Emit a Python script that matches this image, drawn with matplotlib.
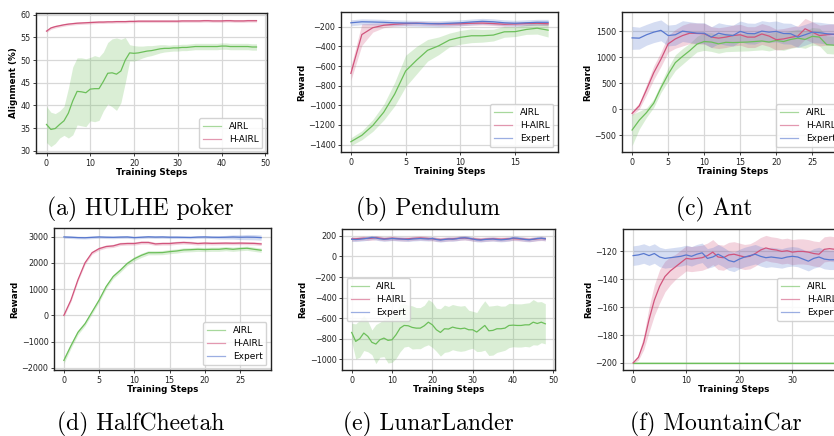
"""Six-panel reward curves: AIRL vs H-AIRL vs Expert."""

import matplotlib

matplotlib.use("Agg")
import matplotlib.pyplot as plt  # noqa: E402
import numpy as np  # noqa: E402
from matplotlib.ticker import MultipleLocator  # noqa: E402

W, H = 834, 436
COLORS = {"AIRL": "#6cbf5a", "H-AIRL": "#d1547c", "Expert": "#5878cf"}

# (a) HULHE poker, steps 0..48
POKER_AIRL = [35.8, 34.7, 34.9, 35.8, 36.6, 38.3, 41.0, 43.1, 43.0, 42.8, 43.6, 43.7, 43.7,
              45.3, 47.1, 47.2, 46.9, 47.6, 50.0, 51.6, 51.5, 51.6, 51.8, 52.0, 52.1, 52.3,
              52.5, 52.6, 52.6, 52.7, 52.7, 52.8, 52.8, 52.9, 53.0, 53.0, 53.0, 53.0, 53.0,
              53.0, 53.1, 53.1, 53.0, 53.0, 53.0, 53.0, 53.0, 52.9, 52.9]
POKER_AIRL_STD = [4.0, 3.8, 3.3, 3.0, 3.2, 5.5, 7.5, 7.4, 7.5, 7.5, 7.0, 7.3, 7.0, 6.5, 6.8,
                  7.5, 8.0, 7.0, 5.0, 1.8, 1.7, 1.5, 1.3, 1.2, 1.1, 1.0, 0.9, 0.8, 0.7, 0.7,
                  0.7, 0.7, 0.7, 0.7, 0.7, 0.7, 0.7, 0.7, 0.7, 0.7, 0.7, 0.7, 0.7, 0.7, 0.7,
                  0.7, 0.7, 0.7, 0.7]
POKER_HAIRL = [56.4, 57.1, 57.4, 57.6, 57.8, 57.95, 58.05, 58.15, 58.2, 58.25, 58.3, 58.35,
               58.4, 58.4, 58.45, 58.45, 58.5, 58.5, 58.5, 58.55, 58.55, 58.6, 58.6, 58.6,
               58.6, 58.6, 58.6, 58.6, 58.6, 58.6, 58.6, 58.65, 58.65, 58.65, 58.65, 58.65,
               58.7, 58.7, 58.65, 58.65, 58.65, 58.7, 58.7, 58.65, 58.65, 58.65, 58.7, 58.7,
               58.7]
POKER_HAIRL_STD = [0.3] * 49

# (b) Pendulum, steps 0..18
PEND_AIRL = [-1370, -1305, -1205, -1070, -885, -650, -540, -440, -395, -335, -308, -292,
             -292, -285, -252, -250, -228, -215, -235]
PEND_AIRL_STD = [40, 45, 60, 80, 120, 160, 140, 110, 90, 70, 70, 70, 65, 60, 55, 50, 50, 60, 70]
PEND_HAIRL = [-675, -280, -210, -185, -175, -168, -165, -168, -170, -172, -170, -165, -163,
              -168, -175, -172, -168, -165, -170]
PEND_HAIRL_STD = [70, 110, 45, 25, 20, 18, 18, 18, 20, 20, 20, 20, 20, 20, 20, 20, 20, 20, 20]
PEND_EXPERT = [-160, -150, -152, -155, -160, -163, -165, -168, -170, -165, -160, -152, -145,
               -150, -160, -165, -160, -155, -155]
PEND_EXPERT_STD = [30] * 19

# (c) Ant, steps 0..28
ANT_AIRL = [-400, -210, -65, 115, 410, 670, 895, 1015, 1125, 1250, 1300, 1290, 1255, 1285,
            1280, 1285, 1290, 1300, 1310, 1290, 1320, 1300, 1340, 1365, 1340, 1400, 1385,
            1240, 1230]
ANT_AIRL_STD = [300, 170, 90, 80, 90, 130, 150, 150, 140, 150, 170, 180, 180, 180, 170, 170,
                170, 170, 170, 170, 170, 170, 170, 170, 170, 170, 170, 170, 170]
ANT_HAIRL = [-80, 65, 375, 700, 960, 1255, 1350, 1415, 1460, 1455, 1450, 1385, 1365, 1385,
             1415, 1430, 1385, 1385, 1445, 1405, 1335, 1350, 1380, 1405, 1545, 1480, 1415,
             1430, 1440]
ANT_HAIRL_STD = [40, 60, 100, 130, 140, 160, 180, 200, 200, 200, 200, 200, 200, 200, 200, 200,
                 200, 200, 200, 200, 200, 200, 200, 200, 200, 200, 200, 200, 200]
ANT_EXPERT = [1370, 1365, 1430, 1480, 1515, 1415, 1430, 1500, 1480, 1460, 1460, 1385, 1460,
              1430, 1415, 1495, 1455, 1450, 1500, 1480, 1495, 1455, 1450, 1385, 1430, 1480,
              1470, 1450, 1440]
ANT_EXPERT_STD = [220, 210, 200, 200, 200, 200, 200, 200, 200, 200, 200, 200, 200, 200, 200,
                  200, 200, 200, 200, 200, 200, 200, 200, 200, 200, 200, 200, 200, 200]

# (d) HalfCheetah, steps 0..28
CHEETAH_AIRL = [-1715, -1160, -645, -320, 130, 580, 1095, 1480, 1715, 1975, 2155, 2285, 2385,
                2385, 2390, 2425, 2450, 2490, 2500, 2515, 2505, 2515, 2515, 2540, 2515, 2540,
                2555, 2515, 2480]
CHEETAH_AIRL_STD = [120, 100, 90, 80, 80, 80, 80, 80, 80, 80, 80, 80, 80, 80, 80, 80, 80, 80,
                    80, 80, 80, 80, 80, 80, 80, 80, 80, 80, 80]
CHEETAH_HAIRL = [0, 580, 1355, 2000, 2385, 2540, 2620, 2645, 2720, 2735, 2735, 2775, 2775,
                 2720, 2735, 2735, 2760, 2775, 2760, 2735, 2750, 2740, 2745, 2750, 2745, 2750,
                 2745, 2740, 2720]
CHEETAH_HAIRL_STD = [60] * 29
CHEETAH_EXPERT = [2985, 2975, 2960, 2955, 2970, 2985, 2975, 2970, 2980, 2985, 2960, 2975,
                  2990, 2980, 2985, 2975, 2975, 2970, 2965, 2980, 2985, 2975, 2970, 2975,
                  2985, 2975, 2980, 2975, 2960]
CHEETAH_EXPERT_STD = [50, 50, 50, 50, 50, 50, 50, 50, 50, 50, 50, 50, 50, 50, 50, 50, 50, 50,
                      50, 50, 50, 50, 60, 70, 80, 90, 100, 100, 100]

# (e) LunarLander, steps 0..48
LUNAR_AIRL = [-739, -826, -800, -745, -777, -835, -852, -810, -794, -816, -810, -761, -697,
              -671, -674, -690, -697, -697, -674, -639, -665, -713, -739, -703, -706, -687,
              -697, -703, -697, -713, -713, -735, -703, -671, -723, -719, -703, -703, -697,
              -671, -668, -671, -671, -665, -665, -639, -652, -639, -655]
LUNAR_AIRL_STD = [90, 170, 180, 170, 150, 120, 190, 170, 180, 220, 220, 230, 230, 210, 200,
                  210, 200, 200, 200, 220, 220, 210, 230, 230, 220, 220, 220, 220, 220, 190,
                  180, 190, 220, 240, 240, 240, 230, 220, 215, 215, 210, 210, 210, 210, 215,
                  220, 210, 200, 195]
LUNAR_HAIRL = [170, 172, 175, 178, 175, 178, 183, 178, 172, 175, 178, 175, 172, 170, 172, 175,
               178, 180, 178, 175, 172, 168, 165, 168, 170, 172, 175, 178, 180, 175, 170, 168,
               165, 168, 170, 172, 170, 168, 170, 172, 175, 172, 170, 168, 165, 168, 172, 175,
               172]
LUNAR_HAIRL_STD = [20] * 49
LUNAR_EXPERT = [168, 165, 168, 172, 178, 185, 180, 172, 168, 170, 175, 172, 170, 168, 165, 170,
                172, 175, 172, 170, 175, 165, 160, 165, 170, 168, 172, 180, 182, 178, 170, 162,
                160, 165, 168, 170, 165, 162, 165, 170, 180, 178, 172, 165, 162, 168, 175, 178,
                172]
LUNAR_EXPERT_STD = [20] * 49

# (f) MountainCar, steps 0..38
CAR_AIRL = [-200.0] * 39
CAR_AIRL_STD = [0.3] * 39
CAR_HAIRL = [-200, -196, -185.5, -169, -155, -145, -138, -134, -131, -128, -125, -125.5, -125,
             -124.5, -123, -120.5, -124, -124.5, -122.5, -122, -123, -124, -123.5, -121.5,
             -119, -117.5, -118.5, -119, -120, -119.5, -120.5, -120, -120, -120.5, -121.5,
             -122, -118.5, -118, -118.5]
CAR_HAIRL_STD = [0.5, 2, 5, 9, 11, 12, 11, 10, 9, 9, 9, 9, 9, 9, 9, 9, 9, 9, 9, 9, 9, 9, 9, 9,
                 9, 9, 9, 9, 9, 9, 9, 9, 9, 9, 9, 9, 9, 9, 9]
CAR_EXPERT = [-123, -122.5, -121.5, -123, -121.5, -124, -125, -124.5, -124, -123.5, -122.5,
              -123.5, -122, -121, -125, -124, -122, -124, -126.5, -127.5, -125.5, -124, -123,
              -122, -123.5, -124.5, -124, -124.5, -125, -124, -123.5, -124, -125.5, -127,
              -125, -124, -125.5, -126, -126]
CAR_EXPERT_STD = [7] * 39

# panel boxes in pixels: left, top, right, bottom
PANELS = [
    dict(box=(36, 13, 267, 153), caption="(a) HULHE poker", cap=(140.5, 215),
         ylabel="Alignment (%)", xstep=10, ystep=5, legend="lower right",
         series=[("AIRL", POKER_AIRL, POKER_AIRL_STD), ("H-AIRL", POKER_HAIRL, POKER_HAIRL_STD)]),
    dict(box=(341, 12, 558, 152), caption="(b) Pendulum", cap=(427.5, 215),
         ylabel="Reward", xstep=5, ystep=200, legend="lower right",
         series=[("AIRL", PEND_AIRL, PEND_AIRL_STD), ("H-AIRL", PEND_HAIRL, PEND_HAIRL_STD),
                 ("Expert", PEND_EXPERT, PEND_EXPERT_STD)]),
    dict(box=(622, 12, 844, 152), caption="(c) Ant", cap=(714, 215),
         ylabel="Reward", xstep=5, ystep=500, legend="lower right",
         series=[("AIRL", ANT_AIRL, ANT_AIRL_STD), ("H-AIRL", ANT_HAIRL, ANT_HAIRL_STD),
                 ("Expert", ANT_EXPERT, ANT_EXPERT_STD)]),
    dict(box=(54, 228, 271, 370), caption="(d) HalfCheetah", cap=(140.5, 430),
         ylabel="Reward", xstep=5, ystep=1000, legend="lower right",
         series=[("AIRL", CHEETAH_AIRL, CHEETAH_AIRL_STD),
                 ("H-AIRL", CHEETAH_HAIRL, CHEETAH_HAIRL_STD),
                 ("Expert", CHEETAH_EXPERT, CHEETAH_EXPERT_STD)]),
    dict(box=(342, 229, 555, 370), caption="(e) LunarLander", cap=(428.5, 430),
         ylabel="Reward", xstep=10, ystep=200, legend="center left",
         series=[("AIRL", LUNAR_AIRL, LUNAR_AIRL_STD), ("H-AIRL", LUNAR_HAIRL, LUNAR_HAIRL_STD),
                 ("Expert", LUNAR_EXPERT, LUNAR_EXPERT_STD)]),
    dict(box=(623, 229, 845, 370), caption="(f) MountainCar", cap=(716, 430),
         ylabel="Reward", xstep=10, ystep=20, legend="center right",
         series=[("AIRL", CAR_AIRL, CAR_AIRL_STD), ("H-AIRL", CAR_HAIRL, CAR_HAIRL_STD),
                 ("Expert", CAR_EXPERT, CAR_EXPERT_STD)]),
]


def draw_panel(fig, spec):
    left, top, right, bottom = spec["box"]
    ax = fig.add_axes([left / W, 1 - bottom / H, (right - left) / W, (bottom - top) / H])
    for name, mean, std in spec["series"]:
        mean = np.asarray(mean, dtype=float)
        std = np.asarray(std, dtype=float)
        steps = np.arange(len(mean))
        ax.fill_between(steps, mean - std, mean + std, color=COLORS[name], alpha=0.25, lw=0)
        ax.plot(steps, mean, color=COLORS[name], lw=0.9, label=name)

    ax.xaxis.set_major_locator(MultipleLocator(spec["xstep"]))
    ax.yaxis.set_major_locator(MultipleLocator(spec["ystep"]))
    ax.grid(True, color="#d8d8d8", lw=0.9)
    ax.set_axisbelow(True)
    for sp in ax.spines.values():
        sp.set_color("#222222")
        sp.set_linewidth(1.0)
    ax.tick_params(labelsize=5.8, length=2.5, width=0.6, pad=1.5, colors="#222222")
    ax.set_xlabel("Training Steps", fontsize=6.3, fontweight="bold", labelpad=0.5)
    ax.set_ylabel(spec["ylabel"], fontsize=6.3, fontweight="bold", labelpad=1.5)

    leg = ax.legend(loc=spec["legend"], fontsize=6.5, handlelength=2.0, borderpad=0.45,
                    labelspacing=0.45, handletextpad=0.8, framealpha=0.85, edgecolor="#cccccc")
    for line in leg.get_lines():
        line.set_alpha(0.6)

    cx, cy = spec["cap"]
    fig.text(cx / W, 1 - cy / H, spec["caption"], ha="center", va="baseline",
             fontsize=17, family="cmr10")


def main():
    fig = plt.figure(figsize=(W / 100, H / 100), dpi=100)
    for spec in PANELS:
        draw_panel(fig, spec)
    fig.savefig("out.png", dpi=100)


if __name__ == "__main__":
    main()
